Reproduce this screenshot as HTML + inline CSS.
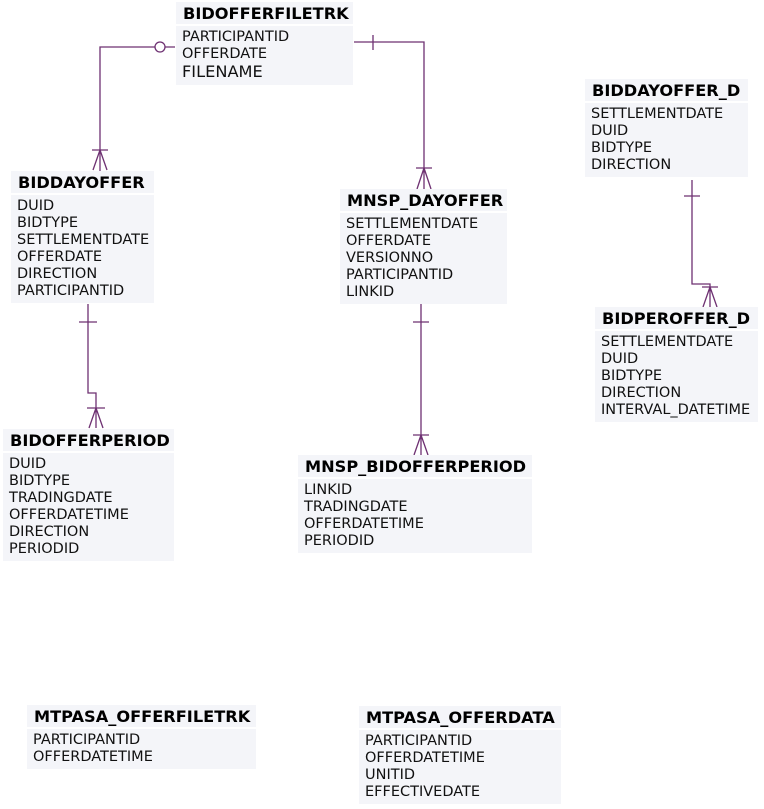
<!DOCTYPE html><html><head><style>
body{margin:0;width:764px;height:809px;background:#fff;position:relative;font-family:"DejaVu Sans","Liberation Sans",sans-serif;overflow:hidden}
.t{position:absolute}
.h{background:#f4f5f9;height:22px;font-weight:bold;font-size:16.2px;line-height:23px;padding-left:7px;color:#000;white-space:nowrap}
.b{background:#f4f5f9;margin-top:2px;padding:3px 0 3px 6px;font-size:14.5px;line-height:17px;color:#111;white-space:nowrap}
svg{position:absolute;left:0;top:0}
</style></head><body>
<svg width="764" height="809" fill="none" stroke="#6e3172" stroke-width="1.3">
<path d="M175 47H100V171"/><circle cx="160" cy="47" r="5" fill="#fff"/><path d="M92 150H108M100 150L93 170M100 150L107 170"/>
<path d="M354 42H424V189M373 35V50M416 168H432M424 168L417 189M424 168L431 189"/>
<path d="M88 304V393H96V428M79 322H97M87 408H105M96 408L89 428M96 408L103 428"/>
<path d="M421 304V455M413 322H429M413 435H429M421 435L414 455M421 435L428 455"/>
<path d="M692 180V284H710V307M684 196H700M702 287H718M710 287L703 307M710 287L717 307"/>
</svg>
<div class="t" style="left:176px;top:2px;width:177px"><div class="h">BIDOFFERFILETRK</div><div class="b">PARTICIPANTID<br>OFFERDATE<br><span style="font-size:16.2px">FILENAME</span></div></div>
<div class="t" style="left:11px;top:171px;width:143px"><div class="h">BIDDAYOFFER</div><div class="b">DUID<br>BIDTYPE<br>SETTLEMENTDATE<br>OFFERDATE<br>DIRECTION<br>PARTICIPANTID</div></div>
<div class="t" style="left:340px;top:189px;width:167px"><div class="h">MNSP_DAYOFFER</div><div class="b">SETTLEMENTDATE<br>OFFERDATE<br>VERSIONNO<br>PARTICIPANTID<br>LINKID</div></div>
<div class="t" style="left:585px;top:79px;width:163px"><div class="h">BIDDAYOFFER_D</div><div class="b">SETTLEMENTDATE<br>DUID<br>BIDTYPE<br>DIRECTION</div></div>
<div class="t" style="left:595px;top:307px;width:163px"><div class="h">BIDPEROFFER_D</div><div class="b">SETTLEMENTDATE<br>DUID<br>BIDTYPE<br>DIRECTION<br>INTERVAL_DATETIME</div></div>
<div class="t" style="left:3px;top:429px;width:171px"><div class="h">BIDOFFERPERIOD</div><div class="b">DUID<br>BIDTYPE<br>TRADINGDATE<br>OFFERDATETIME<br>DIRECTION<br>PERIODID</div></div>
<div class="t" style="left:298px;top:455px;width:234px"><div class="h">MNSP_BIDOFFERPERIOD</div><div class="b">LINKID<br>TRADINGDATE<br>OFFERDATETIME<br>PERIODID</div></div>
<div class="t" style="left:27px;top:705px;width:229px"><div class="h">MTPASA_OFFERFILETRK</div><div class="b">PARTICIPANTID<br>OFFERDATETIME</div></div>
<div class="t" style="left:359px;top:706px;width:202px"><div class="h">MTPASA_OFFERDATA</div><div class="b">PARTICIPANTID<br>OFFERDATETIME<br>UNITID<br>EFFECTIVEDATE</div></div>
</body></html>
